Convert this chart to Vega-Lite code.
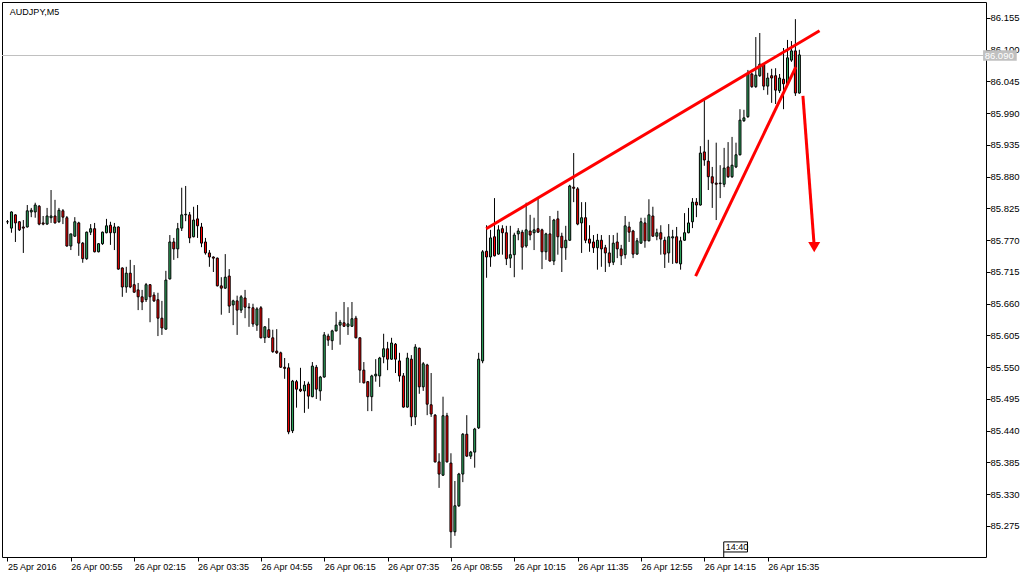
{
  "$schema": "https://vega.github.io/schema/vega-lite/v6.json",
  "width": 984,
  "height": 555,
  "autosize": {"type": "none"},
  "padding": {"left": 2, "top": 2, "right": 48, "bottom": 21},
  "background": "white",
  "config": {
    "view": {"stroke": "black", "strokeWidth": 1},
    "font": "Liberation Sans",
    "axis": {"labelOverlap": false, "labelBound": false, "labelFlush": false, "grid": false, "domain": false, "title": null, "tickColor": "black", "labelColor": "black", "labelFont": "Liberation Sans"},
    "axisY": {"labelFontSize": 9.5, "tickSize": 4, "labelPadding": 0},
    "axisX": {"labelFontSize": 9, "tickSize": 4, "labelPadding": 1}
  },
  "datasets": {
    "candles": [
      {"i":0,"o":85.802,"h":85.805,"l":85.798,"c":85.802},
      {"i":1,"o":85.791,"h":85.820,"l":85.783,"c":85.819},
      {"i":2,"o":85.814,"h":85.815,"l":85.767,"c":85.800},
      {"i":3,"o":85.802,"h":85.803,"l":85.786,"c":85.788},
      {"i":4,"o":85.793,"h":85.805,"l":85.748,"c":85.791},
      {"i":5,"o":85.793,"h":85.831,"l":85.792,"c":85.821},
      {"i":6,"o":85.819,"h":85.826,"l":85.810,"c":85.822},
      {"i":7,"o":85.819,"h":85.835,"l":85.809,"c":85.831},
      {"i":8,"o":85.829,"h":85.831,"l":85.796,"c":85.798},
      {"i":9,"o":85.800,"h":85.812,"l":85.796,"c":85.798},
      {"i":10,"o":85.798,"h":85.826,"l":85.797,"c":85.812},
      {"i":11,"o":85.809,"h":85.857,"l":85.800,"c":85.812},
      {"i":12,"o":85.812,"h":85.840,"l":85.799,"c":85.800},
      {"i":13,"o":85.802,"h":85.826,"l":85.800,"c":85.822},
      {"i":14,"o":85.821,"h":85.824,"l":85.798,"c":85.810},
      {"i":15,"o":85.809,"h":85.812,"l":85.759,"c":85.760},
      {"i":16,"o":85.760,"h":85.781,"l":85.753,"c":85.781},
      {"i":17,"o":85.777,"h":85.810,"l":85.776,"c":85.802},
      {"i":18,"o":85.800,"h":85.802,"l":85.743,"c":85.765},
      {"i":19,"o":85.765,"h":85.767,"l":85.731,"c":85.738},
      {"i":20,"o":85.738,"h":85.785,"l":85.736,"c":85.784},
      {"i":21,"o":85.784,"h":85.798,"l":85.779,"c":85.790},
      {"i":22,"o":85.790,"h":85.800,"l":85.749,"c":85.750},
      {"i":23,"o":85.750,"h":85.765,"l":85.749,"c":85.764},
      {"i":24,"o":85.764,"h":85.785,"l":85.762,"c":85.784},
      {"i":25,"o":85.783,"h":85.807,"l":85.782,"c":85.795},
      {"i":26,"o":85.796,"h":85.802,"l":85.762,"c":85.783},
      {"i":27,"o":85.783,"h":85.800,"l":85.753,"c":85.793},
      {"i":28,"o":85.793,"h":85.794,"l":85.719,"c":85.720},
      {"i":29,"o":85.722,"h":85.723,"l":85.672,"c":85.689},
      {"i":30,"o":85.689,"h":85.724,"l":85.679,"c":85.713},
      {"i":31,"o":85.713,"h":85.736,"l":85.687,"c":85.689},
      {"i":32,"o":85.693,"h":85.727,"l":85.679,"c":85.680},
      {"i":33,"o":85.684,"h":85.696,"l":85.649,"c":85.672},
      {"i":34,"o":85.672,"h":85.684,"l":85.649,"c":85.663},
      {"i":35,"o":85.667,"h":85.696,"l":85.663,"c":85.693},
      {"i":36,"o":85.693,"h":85.694,"l":85.628,"c":85.672},
      {"i":37,"o":85.675,"h":85.680,"l":85.663,"c":85.665},
      {"i":38,"o":85.667,"h":85.679,"l":85.604,"c":85.635},
      {"i":39,"o":85.635,"h":85.665,"l":85.606,"c":85.618},
      {"i":40,"o":85.616,"h":85.717,"l":85.615,"c":85.701},
      {"i":41,"o":85.703,"h":85.779,"l":85.702,"c":85.767},
      {"i":42,"o":85.767,"h":85.774,"l":85.736,"c":85.755},
      {"i":43,"o":85.755,"h":85.800,"l":85.739,"c":85.790},
      {"i":44,"o":85.791,"h":85.861,"l":85.786,"c":85.814},
      {"i":45,"o":85.814,"h":85.864,"l":85.803,"c":85.815},
      {"i":46,"o":85.814,"h":85.819,"l":85.765,"c":85.774},
      {"i":47,"o":85.776,"h":85.828,"l":85.775,"c":85.805},
      {"i":48,"o":85.807,"h":85.831,"l":85.774,"c":85.795},
      {"i":49,"o":85.793,"h":85.800,"l":85.758,"c":85.765},
      {"i":50,"o":85.767,"h":85.774,"l":85.745,"c":85.748},
      {"i":51,"o":85.748,"h":85.753,"l":85.724,"c":85.741},
      {"i":52,"o":85.741,"h":85.742,"l":85.715,"c":85.739},
      {"i":53,"o":85.739,"h":85.740,"l":85.690,"c":85.691},
      {"i":54,"o":85.691,"h":85.706,"l":85.641,"c":85.687},
      {"i":55,"o":85.687,"h":85.746,"l":85.686,"c":85.706},
      {"i":56,"o":85.708,"h":85.720,"l":85.644,"c":85.656},
      {"i":57,"o":85.658,"h":85.667,"l":85.623,"c":85.665},
      {"i":58,"o":85.665,"h":85.674,"l":85.606,"c":85.649},
      {"i":59,"o":85.649,"h":85.675,"l":85.644,"c":85.672},
      {"i":60,"o":85.670,"h":85.684,"l":85.635,"c":85.654},
      {"i":61,"o":85.654,"h":85.661,"l":85.620,"c":85.653},
      {"i":62,"o":85.653,"h":85.660,"l":85.620,"c":85.625},
      {"i":63,"o":85.623,"h":85.654,"l":85.613,"c":85.651},
      {"i":64,"o":85.653,"h":85.656,"l":85.600,"c":85.601},
      {"i":65,"o":85.601,"h":85.621,"l":85.592,"c":85.620},
      {"i":66,"o":85.615,"h":85.635,"l":85.601,"c":85.602},
      {"i":67,"o":85.601,"h":85.615,"l":85.575,"c":85.577},
      {"i":68,"o":85.578,"h":85.616,"l":85.573,"c":85.575},
      {"i":69,"o":85.575,"h":85.577,"l":85.549,"c":85.550},
      {"i":70,"o":85.550,"h":85.566,"l":85.530,"c":85.548},
      {"i":71,"o":85.549,"h":85.557,"l":85.434,"c":85.438},
      {"i":72,"o":85.440,"h":85.528,"l":85.436,"c":85.526},
      {"i":73,"o":85.525,"h":85.528,"l":85.480,"c":85.512},
      {"i":74,"o":85.512,"h":85.549,"l":85.507,"c":85.509},
      {"i":75,"o":85.509,"h":85.526,"l":85.471,"c":85.519},
      {"i":76,"o":85.521,"h":85.525,"l":85.478,"c":85.500},
      {"i":77,"o":85.499,"h":85.559,"l":85.498,"c":85.552},
      {"i":78,"o":85.550,"h":85.554,"l":85.495,"c":85.512},
      {"i":79,"o":85.509,"h":85.535,"l":85.492,"c":85.533},
      {"i":80,"o":85.533,"h":85.611,"l":85.532,"c":85.606},
      {"i":81,"o":85.604,"h":85.608,"l":85.587,"c":85.597},
      {"i":82,"o":85.596,"h":85.615,"l":85.580,"c":85.613},
      {"i":83,"o":85.613,"h":85.646,"l":85.612,"c":85.623},
      {"i":84,"o":85.623,"h":85.632,"l":85.589,"c":85.628},
      {"i":85,"o":85.627,"h":85.663,"l":85.620,"c":85.621},
      {"i":86,"o":85.621,"h":85.654,"l":85.606,"c":85.625},
      {"i":87,"o":85.621,"h":85.663,"l":85.620,"c":85.634},
      {"i":88,"o":85.635,"h":85.639,"l":85.600,"c":85.601},
      {"i":89,"o":85.601,"h":85.602,"l":85.523,"c":85.545},
      {"i":90,"o":85.545,"h":85.559,"l":85.522,"c":85.523},
      {"i":91,"o":85.525,"h":85.526,"l":85.474,"c":85.499},
      {"i":92,"o":85.499,"h":85.537,"l":85.474,"c":85.535},
      {"i":93,"o":85.535,"h":85.564,"l":85.525,"c":85.538},
      {"i":94,"o":85.535,"h":85.568,"l":85.516,"c":85.566},
      {"i":95,"o":85.568,"h":85.608,"l":85.557,"c":85.582},
      {"i":96,"o":85.582,"h":85.594,"l":85.545,"c":85.564},
      {"i":97,"o":85.564,"h":85.601,"l":85.563,"c":85.592},
      {"i":98,"o":85.590,"h":85.592,"l":85.540,"c":85.564},
      {"i":99,"o":85.561,"h":85.575,"l":85.525,"c":85.535},
      {"i":100,"o":85.535,"h":85.540,"l":85.480,"c":85.481},
      {"i":101,"o":85.481,"h":85.575,"l":85.480,"c":85.566},
      {"i":102,"o":85.564,"h":85.571,"l":85.448,"c":85.464},
      {"i":103,"o":85.464,"h":85.590,"l":85.450,"c":85.585},
      {"i":104,"o":85.583,"h":85.584,"l":85.504,"c":85.516},
      {"i":105,"o":85.516,"h":85.559,"l":85.509,"c":85.556},
      {"i":106,"o":85.554,"h":85.556,"l":85.467,"c":85.486},
      {"i":107,"o":85.485,"h":85.540,"l":85.464,"c":85.469},
      {"i":108,"o":85.467,"h":85.469,"l":85.385,"c":85.386},
      {"i":109,"o":85.386,"h":85.401,"l":85.341,"c":85.365},
      {"i":110,"o":85.363,"h":85.499,"l":85.362,"c":85.466},
      {"i":111,"o":85.466,"h":85.471,"l":85.385,"c":85.386},
      {"i":112,"o":85.384,"h":85.401,"l":85.237,"c":85.265},
      {"i":113,"o":85.265,"h":85.353,"l":85.258,"c":85.310},
      {"i":114,"o":85.310,"h":85.367,"l":85.308,"c":85.365},
      {"i":115,"o":85.365,"h":85.436,"l":85.351,"c":85.434},
      {"i":116,"o":85.434,"h":85.467,"l":85.395,"c":85.396},
      {"i":117,"o":85.396,"h":85.405,"l":85.391,"c":85.403},
      {"i":118,"o":85.403,"h":85.445,"l":85.376,"c":85.443},
      {"i":119,"o":85.445,"h":85.575,"l":85.443,"c":85.564},
      {"i":120,"o":85.561,"h":85.753,"l":85.557,"c":85.750},
      {"i":121,"o":85.751,"h":85.796,"l":85.705,"c":85.741},
      {"i":122,"o":85.741,"h":85.788,"l":85.724,"c":85.774},
      {"i":123,"o":85.776,"h":85.843,"l":85.742,"c":85.743},
      {"i":124,"o":85.746,"h":85.796,"l":85.745,"c":85.788},
      {"i":125,"o":85.790,"h":85.796,"l":85.745,"c":85.783},
      {"i":126,"o":85.783,"h":85.795,"l":85.727,"c":85.738},
      {"i":127,"o":85.739,"h":85.795,"l":85.722,"c":85.745},
      {"i":128,"o":85.745,"h":85.783,"l":85.706,"c":85.779},
      {"i":129,"o":85.781,"h":85.791,"l":85.770,"c":85.786},
      {"i":130,"o":85.784,"h":85.788,"l":85.719,"c":85.758},
      {"i":131,"o":85.760,"h":85.835,"l":85.757,"c":85.788},
      {"i":132,"o":85.786,"h":85.814,"l":85.770,"c":85.779},
      {"i":133,"o":85.783,"h":85.809,"l":85.753,"c":85.788},
      {"i":134,"o":85.790,"h":85.845,"l":85.783,"c":85.784},
      {"i":135,"o":85.788,"h":85.790,"l":85.720,"c":85.750},
      {"i":136,"o":85.750,"h":85.783,"l":85.736,"c":85.781},
      {"i":137,"o":85.781,"h":85.812,"l":85.733,"c":85.734},
      {"i":138,"o":85.734,"h":85.807,"l":85.727,"c":85.805},
      {"i":139,"o":85.807,"h":85.821,"l":85.745,"c":85.776},
      {"i":140,"o":85.777,"h":85.783,"l":85.715,"c":85.757},
      {"i":141,"o":85.757,"h":85.795,"l":85.736,"c":85.770},
      {"i":142,"o":85.770,"h":85.866,"l":85.769,"c":85.864},
      {"i":143,"o":85.862,"h":85.921,"l":85.836,"c":85.860},
      {"i":144,"o":85.859,"h":85.862,"l":85.796,"c":85.798},
      {"i":145,"o":85.800,"h":85.836,"l":85.748,"c":85.809},
      {"i":146,"o":85.809,"h":85.836,"l":85.765,"c":85.770},
      {"i":147,"o":85.772,"h":85.796,"l":85.750,"c":85.765},
      {"i":148,"o":85.767,"h":85.779,"l":85.748,"c":85.757},
      {"i":149,"o":85.757,"h":85.781,"l":85.719,"c":85.770},
      {"i":150,"o":85.770,"h":85.779,"l":85.724,"c":85.755},
      {"i":151,"o":85.757,"h":85.762,"l":85.715,"c":85.748},
      {"i":152,"o":85.748,"h":85.779,"l":85.724,"c":85.731},
      {"i":153,"o":85.732,"h":85.779,"l":85.727,"c":85.765},
      {"i":154,"o":85.767,"h":85.783,"l":85.739,"c":85.755},
      {"i":155,"o":85.755,"h":85.762,"l":85.727,"c":85.743},
      {"i":156,"o":85.745,"h":85.812,"l":85.738,"c":85.795},
      {"i":157,"o":85.793,"h":85.802,"l":85.767,"c":85.784},
      {"i":158,"o":85.786,"h":85.788,"l":85.739,"c":85.746},
      {"i":159,"o":85.746,"h":85.774,"l":85.745,"c":85.769},
      {"i":160,"o":85.765,"h":85.809,"l":85.764,"c":85.802},
      {"i":161,"o":85.800,"h":85.809,"l":85.757,"c":85.769},
      {"i":162,"o":85.769,"h":85.841,"l":85.768,"c":85.814},
      {"i":163,"o":85.812,"h":85.828,"l":85.776,"c":85.777},
      {"i":164,"o":85.777,"h":85.790,"l":85.770,"c":85.783},
      {"i":165,"o":85.783,"h":85.796,"l":85.745,"c":85.772},
      {"i":166,"o":85.770,"h":85.776,"l":85.722,"c":85.746},
      {"i":167,"o":85.748,"h":85.798,"l":85.731,"c":85.776},
      {"i":168,"o":85.774,"h":85.788,"l":85.729,"c":85.776},
      {"i":169,"o":85.776,"h":85.793,"l":85.730,"c":85.731},
      {"i":170,"o":85.729,"h":85.776,"l":85.719,"c":85.769},
      {"i":171,"o":85.770,"h":85.817,"l":85.769,"c":85.783},
      {"i":172,"o":85.783,"h":85.826,"l":85.782,"c":85.800},
      {"i":173,"o":85.802,"h":85.843,"l":85.791,"c":85.836},
      {"i":174,"o":85.836,"h":85.843,"l":85.810,"c":85.831},
      {"i":175,"o":85.831,"h":85.933,"l":85.830,"c":85.921},
      {"i":176,"o":85.923,"h":86.016,"l":85.899,"c":85.909},
      {"i":177,"o":85.907,"h":85.944,"l":85.857,"c":85.880},
      {"i":178,"o":85.880,"h":85.897,"l":85.826,"c":85.869},
      {"i":179,"o":85.869,"h":85.939,"l":85.805,"c":85.867},
      {"i":180,"o":85.868,"h":85.900,"l":85.843,"c":85.869},
      {"i":181,"o":85.867,"h":85.930,"l":85.862,"c":85.895},
      {"i":182,"o":85.897,"h":85.940,"l":85.878,"c":85.880},
      {"i":183,"o":85.880,"h":85.949,"l":85.878,"c":85.900},
      {"i":184,"o":85.897,"h":85.939,"l":85.895,"c":85.918},
      {"i":185,"o":85.918,"h":85.997,"l":85.917,"c":85.978},
      {"i":186,"o":85.977,"h":85.996,"l":85.975,"c":85.982},
      {"i":187,"o":85.984,"h":86.065,"l":85.982,"c":86.058},
      {"i":188,"o":86.058,"h":86.060,"l":86.034,"c":86.036},
      {"i":189,"o":86.036,"h":86.122,"l":86.034,"c":86.056},
      {"i":190,"o":86.055,"h":86.129,"l":86.053,"c":86.075},
      {"i":191,"o":86.075,"h":86.077,"l":86.030,"c":86.037},
      {"i":192,"o":86.037,"h":86.060,"l":86.022,"c":86.051},
      {"i":193,"o":86.055,"h":86.067,"l":86.008,"c":86.051},
      {"i":194,"o":86.055,"h":86.068,"l":86.006,"c":86.030},
      {"i":195,"o":86.029,"h":86.058,"l":86.025,"c":86.051},
      {"i":196,"o":86.049,"h":86.103,"l":85.997,"c":86.041},
      {"i":197,"o":86.041,"h":86.117,"l":86.039,"c":86.086},
      {"i":198,"o":86.082,"h":86.115,"l":86.079,"c":86.098},
      {"i":199,"o":86.098,"h":86.153,"l":86.020,"c":86.025},
      {"i":200,"o":86.025,"h":86.100,"l":86.024,"c":86.091}
    ],
    "trendlines": [
      {"i1":120.9,"p1":85.790,"i2":205.1,"p2":86.133},
      {"i1":173.8,"p1":85.708,"i2":199.1,"p2":86.070},
      {"i1":200.9,"p1":86.020,"i2":203.7,"p2":85.764}
    ],
    "one": [{"k": 1}]
  },
  "layer": [
    {
      "data": {"name": "one"},
      "mark": {"type": "rule", "color": "#c0c0c0", "strokeWidth": 1},
      "encoding": {"y": {"datum": 86.090, "type": "quantitative"}}
    },
    {
      "data": {"name": "candles"},
      "mark": {"type": "rule", "color": "black", "strokeWidth": 1},
      "encoding": {
        "x": {
          "field": "i", "type": "quantitative", "title": null,
          "scale": {"domain": [-0.125, 245.875], "nice": false, "zero": false},
          "axis": {
            "orient": "bottom", "tickCount": 30,
            "values": [0, 16, 32, 48, 64, 80, 96, 112, 128, 144, 160, 176, 192],
            "labelExpr": "['25 Apr 2016','26 Apr 00:55','26 Apr 02:15','26 Apr 03:35','26 Apr 04:55','26 Apr 06:15','26 Apr 07:35','26 Apr 08:55','26 Apr 10:15','26 Apr 11:35','26 Apr 12:55','26 Apr 14:15','26 Apr 15:35'][round(datum.value/16)]",
            "labelAlign": "left", "labelBaseline": "top"
          }
        },
        "y": {
          "field": "l", "type": "quantitative", "title": null,
          "scale": {"domain": [85.2213, 86.1827], "nice": false, "zero": false},
          "axis": {
            "orient": "right", "tickCount": 30,
            "values": [85.275, 85.33, 85.385, 85.44, 85.495, 85.55, 85.605, 85.66, 85.715, 85.77, 85.825, 85.88, 85.935, 85.99, 86.045, 86.1, 86.155],
            "format": ".3f"
          }
        },
        "y2": {"field": "h"}
      }
    },
    {
      "data": {"name": "candles"},
      "mark": {"type": "bar", "width": 2, "stroke": "black", "strokeWidth": 1},
      "encoding": {
        "x": {"field": "i", "type": "quantitative", "title": null},
        "y": {"field": "o", "type": "quantitative", "title": null},
        "y2": {"field": "c"},
        "fill": {"condition": {"test": "datum.c >= datum.o", "value": "#2fae62"}, "value": "#ff0000"}
      }
    },
    {
      "data": {"name": "trendlines"},
      "mark": {"type": "rule", "color": "#ff0000", "strokeWidth": 3},
      "encoding": {
        "x": {"field": "i1", "type": "quantitative", "title": null},
        "x2": {"field": "i2"},
        "y": {"field": "p1", "type": "quantitative", "title": null},
        "y2": {"field": "p2"}
      }
    },
    {
      "data": {"name": "one"},
      "mark": {"type": "point", "shape": "triangle-down", "filled": true, "color": "#ff0000", "size": 144, "opacity": 1},
      "encoding": {
        "x": {"datum": 203.75, "type": "quantitative"},
        "y": {"datum": 85.758, "type": "quantitative"}
      }
    },
    {
      "data": {"name": "one"},
      "mark": {"type": "rect", "fill": "white", "stroke": "black", "strokeWidth": 1},
      "encoding": {
        "x": {"datum": 180.9, "type": "quantitative"},
        "x2": {"datum": 186.9},
        "y": {"datum": 85.2475, "type": "quantitative"},
        "y2": {"datum": 85.2300}
      }
    },
    {
      "data": {"name": "one"},
      "mark": {"type": "rule", "color": "black", "strokeWidth": 1},
      "encoding": {
        "x": {"datum": 180.9, "type": "quantitative"},
        "y": {"datum": 85.2300, "type": "quantitative"},
        "y2": {"datum": 85.2213}
      }
    },
    {
      "data": {"name": "one"},
      "mark": {"type": "text", "text": "14:40", "align": "left", "baseline": "middle", "font": "Liberation Sans", "fontSize": 9, "color": "black"},
      "encoding": {
        "x": {"datum": 181.4, "type": "quantitative"},
        "y": {"datum": 85.2388, "type": "quantitative"}
      }
    },
    {
      "data": {"name": "one"},
      "mark": {"type": "rect", "fill": "#c0c0c0"},
      "encoding": {
        "x": {"datum": 246.4, "type": "quantitative"},
        "x2": {"datum": 254.9},
        "y": {"datum": 86.0992, "type": "quantitative"},
        "y2": {"datum": 86.0810}
      }
    },
    {
      "data": {"name": "one"},
      "mark": {"type": "text", "text": "86.090", "align": "left", "baseline": "middle", "font": "Liberation Sans", "fontSize": 9.5, "color": "white"},
      "encoding": {
        "x": {"datum": 246.8, "type": "quantitative"},
        "y": {"datum": 86.090, "type": "quantitative"}
      }
    },
    {
      "data": {"name": "one"},
      "mark": {"type": "text", "text": "AUDJPY,M5", "align": "left", "baseline": "middle", "font": "Liberation Sans", "fontSize": 9, "color": "black"},
      "encoding": {
        "x": {"datum": 0.6, "type": "quantitative"},
        "y": {"datum": 86.165, "type": "quantitative"}
      }
    }
  ]
}
